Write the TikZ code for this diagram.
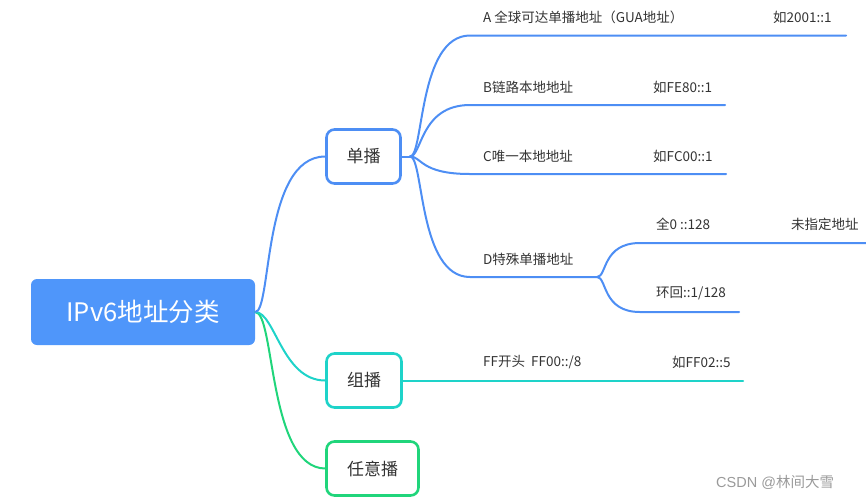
\documentclass[tikz,border=0pt]{standalone}
\usepackage{fontspec}
\newfontfamily\cjk{Noto Sans CJK SC}
\newfontfamily\wmlat{Liberation Sans}
\definecolor{rootblue}{HTML}{4F96FA}
\definecolor{lblue}{HTML}{4D8EF4}
\definecolor{lteal}{HTML}{1ED3C9}
\definecolor{lgreen}{HTML}{20D57B}
\definecolor{txt}{HTML}{333333}
\definecolor{wm}{HTML}{9A9A9A}
\begin{document}
\begin{tikzpicture}[x=1pt,y=-1pt,
  rootbox/.style={fill=rootblue,rounded corners=6pt,minimum width=224pt,minimum height=66pt,inner sep=0pt,text=white,font=\cjk\fontsize{25.5}{30}\selectfont},
  catbox/.style={draw,fill=white,line width=2.6pt,rounded corners=8pt,minimum height=54pt,inner sep=0pt,text=txt,font=\cjk\fontsize{17}{20}\selectfont},
  leaf/.style={anchor=west,inner sep=0pt,text=txt,font=\cjk\fontsize{13.5}{16}\selectfont},
  conn/.style={line width=2pt,line cap=round},
  wmark/.style={anchor=west,inner sep=0pt,text=wm,font=\cjk\fontsize{14.5}{17}\selectfont}]
\useasboundingbox (0,0) rectangle (866,499);
% main nodes
\node[rootbox] (root) at (143,312) {IPv6地址分类};
\node[catbox,draw=lblue,minimum width=74pt] (uni) at (363.5,156.5) {单播};
\node[catbox,draw=lteal,minimum width=75pt] (multi) at (364,380.5) {组播};
\node[catbox,draw=lgreen,minimum width=92pt] (any) at (372.5,468.5) {任意播};
% connectors from root
\draw[conn,lgreen] (root.east) .. controls (275,312) and (268,468) .. (any.west);
\draw[conn,lteal] (root.east) .. controls (275,312) and (282,380.5) .. (multi.west);
\draw[conn,lblue] (root.east) .. controls (272,312) and (262,156.5) .. (uni.west);
% unicast branches
\coordinate (ub) at (410,156.5);
\coordinate (aS) at (470,35.5);  \coordinate (aE) at (846,35.5);
\coordinate (bS) at (470,105);   \coordinate (bE) at (725,105);
\coordinate (cS) at (470,174);   \coordinate (cE) at (726,174);
\coordinate (dS) at (470,277);   \coordinate (dB) at (597,277);
\coordinate (eS) at (640,243);   \coordinate (eE) at (866,243);
\coordinate (fS) at (640,312);   \coordinate (fE) at (739,312);
\coordinate (mE) at (743,380.5);
\draw[conn,lblue] (uni.east) -- (ub);
\draw[conn,lblue] (ub) .. controls (424,156.5) and (418,35.5) .. (aS) -- (aE);
\draw[conn,lblue] (ub) .. controls (422,156.5) and (420,105) .. (bS) -- (bE);
\draw[conn,lblue] (ub) .. controls (422,156.5) and (420,174) .. (cS) -- (cE);
\draw[conn,lblue] (ub) .. controls (424,156.5) and (418,277) .. (dS) -- (dB);
\draw[conn,lblue] (dB) .. controls (607,277) and (602,243) .. (eS) -- (eE);
\draw[conn,lblue] (dB) .. controls (607,277) and (602,312) .. (fS) -- (fE);
\draw[conn,lteal] (multi.east) -- (mE);
% leaf texts
\node[leaf] (ta) at (483,17) {A 全球可达单播地址（GUA地址）};
\node[leaf] (tax) at (773,17) {如2001::1};
\node[leaf] (tb) at (483,87) {B链路本地地址};
\node[leaf] (tbx) at (653,87) {如FE80::1};
\node[leaf] (tc) at (483,156) {C唯一本地地址};
\node[leaf] (tcx) at (653,156) {如FC00::1};
\node[leaf] (td) at (483,259) {D特殊单播地址};
\node[leaf] (te) at (656,224.5) {全0 ::128};
\node[leaf] (tex) at (791,224.5) {未指定地址};
\node[leaf] (tf) at (656,293) {环回::1/128};
\node[leaf] (tm) at (483,362) {FF开头\ \ FF00::/8};
\node[leaf] (tmx) at (672,362) {如FF02::5};
\node[wmark] (wm) at (716,482) {{\wmlat CSDN @}林间大雪};
\end{tikzpicture}
\end{document}
